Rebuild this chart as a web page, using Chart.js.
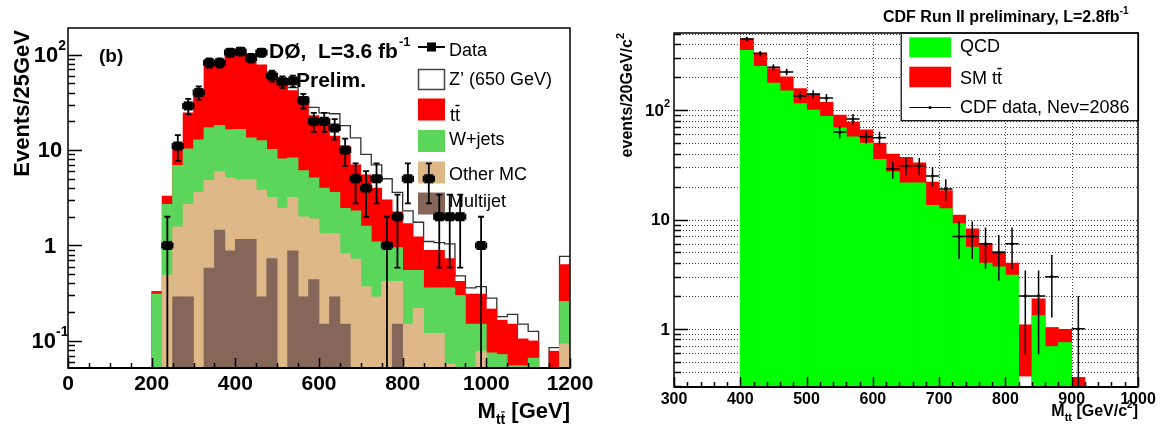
<!DOCTYPE html>
<html lang="en">
<head>
<meta charset="UTF-8">
<title>M_tt distributions</title>
<script src="https://cdn.jsdelivr.net/npm/chart.js@4.4.1/dist/chart.umd.min.js"></script>
<style>
  html, body { margin: 0; padding: 0; background: #fff; }
  #wrap { position: relative; width: 1160px; height: 433px; }
  canvas { position: absolute; top: 0; }
  #left { left: 0; }
  #right { left: 590px; }
</style>
</head>
<body>
<div id="wrap">
  <canvas id="left" width="620" height="433"></canvas>
  <canvas id="right" width="570" height="433"></canvas>
</div>
<script>
// ---------- left panel: D0, 25 GeV bins ----------
const d0BinLow = [200,225,250,275,300,325,350,375,400,425,450,475,500,525,550,575,600,625,650,675,
                  700,725,750,775,800,825,850,875,900,925,950,975,1000,1025,1050,1075,1100,1125,1150,1175];
// cumulative stack tops
const d0Multijet = [null,null,0.29,0.29,null,0.58,1.45,0.88,1.16,1.16,0.29,0.73,null,0.88,0.29,0.44,0.15,0.29,0.15,null,
                    null,null,null,0.15,null,null,null,null,null,null,null,null,null,null,null,null,null,null,null,null];
const d0OtherMC = [null,0.49,1.57,2.7,3.6,4.8,5.96,5.1,4.9,4.9,3.8,3.2,2.47,3.2,2.0,1.9,1.33,1.33,0.82,0.72,
                   0.37,0.29,0.42,0.42,0.15,0.22,0.12,0.12,0.057,null,null,0.078,null,null,null,null,null,null,null,0.093];
const d0Wjets = [0.31,2.7,6.9,10.3,12.8,17.2,18.2,16.4,16.5,13.4,12.6,10.2,8.1,8.3,6.1,5.1,4.0,3.6,2.45,2.3,
                 1.6,1.09,1.0,0.95,0.55,0.55,0.36,0.36,0.36,0.3,0.15,0.15,0.075,0.072,0.055,0.055,0.066,null,null,0.26];
const d0TTbar = [0.33,3.3,10.7,24.5,40,80,80,102,102,102,78,63,50,42,32,23,21,14,11,7,
                 5.5,4.0,3.0,2.25,1.7,1.23,0.89,0.89,0.73,0.42,0.31,0.31,0.216,0.165,0.15,0.105,0.10,null,0.078,0.63];
const d0Zprime = [null,null,null,null,null,null,null,null,null,null,null,null,50,45,36,28,24.5,24,18,13.4,
                  9,7,5,3.6,2.3,1.75,1.1,1.07,1.04,0.48,0.36,0.37,0.28,0.18,0.19,0.15,0.126,null,0.085,0.77];
const d0Data = [null,1,11,29,40,82,82,105,108,92,105,60,52,53,33,20,20,17,10,5,
                4,5,1,2,5,null,5,2,2,2,null,1,null,null,null,null,null,null,null,null];
const d0XTicks = [0,200,400,600,800,1000,1200];
const d0YTicks = [0.1,1,10,100];
const d0YTickText = [['10','-1'],['1',''],['10',''],['10','2']];

// ---------- right panel: CDF, 20 GeV bins ----------
const cdfBinLow = [400,420,440,460,480,500,520,540,560,580,600,620,640,660,680,700,720,740,760,780,800,820,840,860,880,900];
const cdfQCD = [353,252,177,150,115,100,88,69,57,50,35.5,27.3,21.7,21.7,13.5,12.6,9.2,5.6,4.0,3.7,3.1,null,1.32,0.69,0.75,null];
const cdfTotal = [452,334,240,202,158,142,118,90,78,66,50,39.6,37,33,22,18.4,11.0,8.2,6.0,5.1,4.0,1.09,1.88,1.03,0.99,0.36];
const cdfTTLow = [null,null,null,null,null,null,null,null,null,null,null,null,null,null,null,null,null,null,null,null,null,0.37,null,null,null,null];
const cdfData = [448,330,247,224,135,140,129,63,83,57,56,29,31,31,25,19,7,7,6,5,6,2,2,3,null,1];
const cdfXTicks = [300,400,500,600,700,800,900,1000];
const cdfYTicks = [1,10,100];
const cdfYTickText = [['1',''],['10',''],['10','2']];

const FONT = '"Liberation Sans", Arial, sans-serif';
const fnt = (s, b) => (b ? 'bold ' : '') + s + 'px ' + FONT;

const D0_YMIN = 0.052, D0_YMAX = 190;
const CDF_YMIN = 0.294, CDF_YMAX = 508;

function centers(lows, w, vals) { return lows.map((lo, i) => ({ x: lo + w / 2, y: vals[i] })); }

function logMinor(min, max) {
  const out = [];
  for (let d = Math.floor(Math.log10(min)); d <= Math.ceil(Math.log10(max)); d++)
    for (let k = 1; k <= 9; k++) {
      const v = k * Math.pow(10, d);
      if (v >= min && v <= max) out.push({ v, major: k === 1 });
    }
  return out;
}

function txt(ctx, s, x, y, font, align, base) {
  ctx.font = font; ctx.textAlign = align || 'left'; ctx.textBaseline = base || 'middle';
  ctx.fillText(s, x, y);
}

// "10" with a superscript, positioned by its centre or right edge
function powLabel(ctx, base, exp, x, y, size, align) {
  const fb = fnt(size, true), fe = fnt(Math.round(size * 0.62), true);
  ctx.font = fb; const wb = ctx.measureText(base).width;
  ctx.font = fe; const we = exp ? ctx.measureText(exp).width : 0;
  const x0 = align === 'center' ? x - (wb + we) / 2 : x - wb - we;
  txt(ctx, base, x0, y, fb, 'left');
  if (exp) txt(ctx, exp, x0 + wb, y - size * 0.45, fe, 'left');
}

// "tt" with a bar over the second t
function ttbar(ctx, x, y, size, bold, bar) {
  const f = fnt(size, bold);
  ctx.font = f;
  const w1 = ctx.measureText('t').width, w2 = ctx.measureText('tt').width;
  txt(ctx, 'tt', x, y, f, 'left', 'alphabetic');
  if (bar) {
    ctx.save(); ctx.lineWidth = Math.max(1, size / 12); ctx.strokeStyle = '#000';
    ctx.beginPath(); ctx.moveTo(x + w1 + 0.5, y - size * 0.86); ctx.lineTo(x + w2 - 0.5, y - size * 0.86); ctx.stroke();
    ctx.restore();
  }
  return w2;
}

// ================= LEFT CHART =================
const colTT = '#ff0000', colW = '#5ad65a', colOther = '#deb887', colMJ = '#866658';

const zPts = [];
d0BinLow.forEach((lo, i) => {
  if (i < 12) return;
  const v = d0Zprime[i] == null ? D0_YMIN : d0Zprime[i];
  zPts.push({ x: lo, y: v }, { x: lo + 25, y: v });
});

const d0Plugin = {
  id: 'd0deco',
  beforeDatasetsDraw(chart) {
    const ctx = chart.ctx;
    ctx.save();
    // legend
    ctx.fillStyle = '#000'; ctx.strokeStyle = '#000'; ctx.lineWidth = 2;
    ctx.beginPath(); ctx.moveTo(418, 47); ctx.lineTo(445, 47); ctx.stroke();
    ctx.fillRect(427, 42.5, 9, 9);
    txt(ctx, 'Data', 449, 51, fnt(18, false));
    ctx.fillStyle = '#fff'; ctx.fillRect(418.5, 69.5, 26, 20);
    ctx.strokeStyle = '#444'; ctx.lineWidth = 1.5; ctx.strokeRect(418.5, 69.5, 26, 20);
    ctx.fillStyle = '#000'; txt(ctx, 'Z\u2019 (650 GeV)', 449, 80, fnt(18, false));
    const boxes = [[colTT, 98.5], [colW, 130], [colOther, 161.5], [colMJ, 192.5]];
    boxes.forEach(([c, y]) => { ctx.fillStyle = c; ctx.fillRect(418, y, 27, 22); });
    ctx.fillStyle = '#000';
    ttbar(ctx, 450, 121, 18, false, true);
    txt(ctx, 'W+jets', 449, 140, fnt(18, false));
    txt(ctx, 'Other MC', 449, 175, fnt(18, false));
    txt(ctx, 'Multijet', 449, 202, fnt(18, false));
    ctx.restore();
  },
  afterDatasetsDraw(chart) {
    const { ctx, chartArea: a, scales: { x, y } } = chart;
    ctx.save();
    ctx.beginPath(); ctx.rect(a.left, a.top, a.right - a.left, a.bottom - a.top); ctx.clip();
    ctx.strokeStyle = '#000'; ctx.lineWidth = 1.8;
    d0Data.forEach((n, i) => {
      if (n == null) return;
      const cx = x.getPixelForValue(d0BinLow[i] + 12.5), cy = y.getPixelForValue(n);
      const e = Math.sqrt(n);
      const yHi = y.getPixelForValue(n + e);
      const yLo = n - e > 0 ? y.getPixelForValue(n - e) : a.bottom + 5;
      const xl = x.getPixelForValue(d0BinLow[i]), xr = x.getPixelForValue(d0BinLow[i] + 25);
      ctx.beginPath();
      ctx.moveTo(cx, yHi); ctx.lineTo(cx, yLo);
      ctx.moveTo(cx - 3, yHi); ctx.lineTo(cx + 3, yHi);
      if (n - e > 0) { ctx.moveTo(cx - 3, yLo); ctx.lineTo(cx + 3, yLo); }
      ctx.moveTo(xl, cy); ctx.lineTo(xr, cy);
      ctx.moveTo(xl, cy - 3); ctx.lineTo(xl, cy + 3);
      ctx.moveTo(xr, cy - 3); ctx.lineTo(xr, cy + 3);
      ctx.stroke();
    });
    ctx.restore();

    ctx.save();
    ctx.strokeStyle = '#000'; ctx.fillStyle = '#000';
    // ticks
    ctx.lineWidth = 1.5;
    ctx.beginPath();
    logMinor(D0_YMIN, D0_YMAX).forEach(t => {
      const py = Math.round(y.getPixelForValue(t.v)) + 0.5;
      ctx.moveTo(a.left, py); ctx.lineTo(a.left + (t.major ? 14 : 7), py);
    });
    for (let v = 0; v <= 1200; v += 50) {
      const px = Math.round(x.getPixelForValue(v)) + 0.5;
      ctx.moveTo(px, a.bottom); ctx.lineTo(px, a.bottom - (v % 200 === 0 ? 10 : 5));
    }
    ctx.stroke();
    // frame
    ctx.lineWidth = 1.5; ctx.strokeRect(a.left, a.top, a.right - a.left, a.bottom - a.top);
    ctx.lineWidth = 2; ctx.beginPath(); ctx.moveTo(a.left, a.bottom); ctx.lineTo(a.right, a.bottom); ctx.stroke();
    // tick labels
    d0XTicks.forEach(v => txt(ctx, String(v), x.getPixelForValue(v), 384, fnt(21, true), 'center'));
    d0YTicks.forEach((v, i) => powLabel(ctx, d0YTickText[i][0], d0YTickText[i][1], 50, y.getPixelForValue(v) + 1, 22, 'center'));
    // axis titles
    ctx.save(); ctx.translate(23, 30); ctx.rotate(-Math.PI / 2);
    txt(ctx, 'Events/25GeV', 0, 0, fnt(22, true), 'right');
    ctx.restore();
    ctx.font = fnt(22, true); const wM = ctx.measureText('M').width;
    ctx.font = fnt(14, true); const wS = ctx.measureText('tt').width;
    ctx.font = fnt(22, true); const wR = ctx.measureText(' [GeV]').width;
    let x0 = a.right - wM - wS - wR;
    txt(ctx, 'M', x0, 418, fnt(22, true), 'left', 'alphabetic');
    ttbar(ctx, x0 + wM, 424, 14, true, true);
    txt(ctx, ' [GeV]', x0 + wM + wS, 418, fnt(22, true), 'left', 'alphabetic');
    // annotations
    txt(ctx, '(b)', 99, 57, fnt(19, true));
    ctx.font = fnt(21, true); const wD = ctx.measureText('D\u00d8,  L=3.6 fb').width;
    txt(ctx, 'D\u00d8,  L=3.6 fb', 269, 52, fnt(21, true));
    txt(ctx, '-1', 269 + wD + 1, 42, fnt(13, true));
    txt(ctx, 'Prelim.', 296, 81, fnt(21, true));
    ctx.restore();
  }
};

new Chart(document.getElementById('left'), {
  type: 'bar',
  data: {
    datasets: [
      { type: 'line', label: 'Data', data: centers(d0BinLow, 25, d0Data), showLine: false, order: 0,
        pointStyle: 'rect', pointRadius: 6.4, pointBackgroundColor: '#000', pointBorderWidth: 0 },
      { label: 'Multijet', data: centers(d0BinLow, 25, d0Multijet), backgroundColor: colMJ, order: 1 },
      { label: 'Other MC', data: centers(d0BinLow, 25, d0OtherMC), backgroundColor: colOther, order: 2 },
      { label: 'W+jets', data: centers(d0BinLow, 25, d0Wjets), backgroundColor: colW, order: 3 },
      { label: 'ttbar', data: centers(d0BinLow, 25, d0TTbar), backgroundColor: colTT, order: 4 },
      { type: 'line', label: "Z' (650 GeV)", data: zPts, borderColor: '#333', borderWidth: 1.3,
        pointRadius: 0, fill: false, tension: 0, order: 5 }
    ]
  },
  options: {
    responsive: false, animation: false, events: [],
    layout: { padding: { left: 68, top: 28, right: 50, bottom: 65 } },
    datasets: { bar: { grouped: false, barPercentage: 1, categoryPercentage: 1, borderWidth: 0 } },
    plugins: { legend: { display: false }, tooltip: { enabled: false } },
    scales: {
      x: { type: 'linear', display: false, min: 0, max: 1200, offset: false, bounds: 'data' },
      y: { type: 'logarithmic', display: false, min: D0_YMIN, max: D0_YMAX, bounds: 'data' }
    }
  },
  plugins: [d0Plugin]
});

// ================= RIGHT CHART =================
const cdfGreen = '#00ff00', cdfRed = '#ff0000';

const cdfPlugin = {
  id: 'cdfdeco',
  beforeDatasetsDraw(chart) {
    const { ctx, chartArea: a, scales: { x, y } } = chart;
    ctx.save();
    ctx.strokeStyle = 'rgba(0,0,0,0.75)'; ctx.lineWidth = 1; ctx.setLineDash([1, 2]);
    ctx.beginPath();
    logMinor(CDF_YMIN, CDF_YMAX).forEach(t => {
      const py = Math.round(y.getPixelForValue(t.v)) + 0.5;
      if (py <= a.top + 1 || py >= a.bottom - 1) return;
      ctx.moveTo(a.left, py); ctx.lineTo(a.right, py);
    });
    for (let v = 400; v <= 900; v += 100) {
      const px = Math.round(x.getPixelForValue(v)) + 0.5;
      ctx.moveTo(px, a.top); ctx.lineTo(px, a.bottom);
    }
    ctx.stroke();
    ctx.restore();
  },
  afterDatasetsDraw(chart) {
    const { ctx, chartArea: a, scales: { x, y } } = chart;
    ctx.save();
    ctx.beginPath(); ctx.rect(a.left, a.top, a.right - a.left, a.bottom - a.top); ctx.clip();
    ctx.strokeStyle = '#000'; ctx.lineWidth = 1.5;
    cdfData.forEach((n, i) => {
      if (n == null) return;
      const e = Math.sqrt(n);
      const cx = x.getPixelForValue(cdfBinLow[i] + 10), cy = y.getPixelForValue(n);
      const yHi = y.getPixelForValue(n + e);
      const yLo = n - e > 0 ? y.getPixelForValue(n - e) : a.bottom + 5;
      ctx.beginPath();
      ctx.moveTo(cx, yHi); ctx.lineTo(cx, yLo);
      ctx.moveTo(x.getPixelForValue(cdfBinLow[i]), cy); ctx.lineTo(x.getPixelForValue(cdfBinLow[i] + 20), cy);
      ctx.stroke();
    });
    ctx.restore();

    ctx.save();
    ctx.fillStyle = '#000'; ctx.strokeStyle = '#000';
    // legend box
    const L = 900.7 - 590, T = a.top, R = a.right, B = 120.7;
    ctx.fillStyle = '#fff'; ctx.fillRect(L, T, R - L, B - T);
    ctx.lineWidth = 1.2; ctx.strokeRect(L + 0.5, T, R - L, B - T);
    ctx.fillStyle = cdfGreen; ctx.fillRect(909.3 - 590, 37.3, 41.7, 20);
    ctx.fillStyle = cdfRed; ctx.fillRect(909.3 - 590, 66.7, 41.7, 20.6);
    ctx.fillStyle = '#000';
    ctx.lineWidth = 1.2; ctx.beginPath(); ctx.moveTo(909.3 - 590, 107.5); ctx.lineTo(951 - 590, 107.5); ctx.stroke();
    ctx.beginPath(); ctx.arc(930 - 590, 107.5, 1.6, 0, Math.PI * 2); ctx.fill();
    txt(ctx, 'QCD', 960 - 590, 47.5, fnt(18, false));
    ctx.font = fnt(18, false); const wSM = ctx.measureText('SM ').width;
    txt(ctx, 'SM ', 960 - 590, 84, fnt(18, false), 'left', 'alphabetic');
    ttbar(ctx, 960 - 590 + wSM, 84, 18, false, true);
    txt(ctx, 'CDF data, Nev=2086', 960 - 590, 108, fnt(18, false));
    // ticks
    ctx.lineWidth = 1.5;
    ctx.beginPath();
    logMinor(CDF_YMIN, CDF_YMAX).forEach(t => {
      const py = Math.round(y.getPixelForValue(t.v)) + 0.5;
      ctx.moveTo(a.left, py); ctx.lineTo(a.left + (t.major ? 14 : 7), py);
    });
    for (let v = 300; v <= 1000; v += 20) {
      const px = Math.round(x.getPixelForValue(v)) + 0.5;
      ctx.moveTo(px, a.bottom); ctx.lineTo(px, a.bottom - (v % 100 === 0 ? 10 : 5));
    }
    ctx.stroke();
    // frame
    ctx.lineWidth = 1.5; ctx.strokeRect(a.left, a.top, a.right - a.left, a.bottom - a.top);
    ctx.lineWidth = 2; ctx.beginPath(); ctx.moveTo(a.left, a.bottom); ctx.lineTo(a.right, a.bottom); ctx.stroke();
    // tick labels
    cdfXTicks.forEach(v => txt(ctx, String(v), x.getPixelForValue(v), 400, fnt(16, true), 'center'));
    cdfYTicks.forEach((v, i) => powLabel(ctx, cdfYTickText[i][0], cdfYTickText[i][1], 80, y.getPixelForValue(v) + 1, 17, 'right'));
    // title
    ctx.font = fnt(16, true); const wT = ctx.measureText('CDF Run II preliminary, L=2.8fb').width;
    txt(ctx, 'CDF Run II preliminary, L=2.8fb', 883 - 590, 18, fnt(16, true));
    txt(ctx, '-1', 883 - 590 + wT, 11, fnt(10, true));
    // y title (reads upward, ends at frame top)
    ctx.save(); ctx.translate(38, a.top); ctx.rotate(-Math.PI / 2);
    ctx.font = fnt(11, true); const w2 = ctx.measureText('2').width;
    txt(ctx, 'events/20GeV/c', -w2, 0, fnt(16, true), 'right');
    txt(ctx, '2', -w2, -7, fnt(11, true), 'left');
    ctx.restore();
    // x title
    ctx.font = fnt(16, true); const wM = ctx.measureText('M').width;
    ctx.font = fnt(11, true); const wS = ctx.measureText('tt').width;
    ctx.font = fnt(16, true); const wG = ctx.measureText(' [GeV/c').width, wB = ctx.measureText(']').width;
    ctx.font = fnt(10, true); const wSup = ctx.measureText('2').width;
    let x0 = a.right - (wM + wS + wG + wSup + wB);
    txt(ctx, 'M', x0, 416, fnt(16, true), 'left', 'alphabetic');
    txt(ctx, 'tt', x0 + wM, 421, fnt(11, true), 'left', 'alphabetic');
    txt(ctx, ' [GeV/c', x0 + wM + wS, 416, fnt(16, true), 'left', 'alphabetic');
    txt(ctx, '2', x0 + wM + wS + wG, 408, fnt(10, true), 'left', 'alphabetic');
    txt(ctx, ']', x0 + wM + wS + wG + wSup, 416, fnt(16, true), 'left', 'alphabetic');
    ctx.restore();
  }
};

new Chart(document.getElementById('right'), {
  type: 'bar',
  data: {
    datasets: [
      { type: 'line', label: 'CDF data, Nev=2086', data: centers(cdfBinLow, 20, cdfData), showLine: false, order: 0,
        pointRadius: 1.6, pointBackgroundColor: '#000', pointBorderWidth: 0 },
      { label: 'QCD', data: centers(cdfBinLow, 20, cdfQCD), backgroundColor: cdfGreen, order: 1 },
      { label: 'SM ttbar', order: 2, backgroundColor: cdfRed,
        data: cdfBinLow.map((lo, i) => ({ x: lo + 10, y: cdfTTLow[i] != null ? [cdfTTLow[i], cdfTotal[i]] : cdfTotal[i] })) }
    ]
  },
  options: {
    responsive: false, animation: false, events: [],
    layout: { padding: { left: 84, top: 33, right: 22, bottom: 46 } },
    datasets: { bar: { grouped: false, barPercentage: 1, categoryPercentage: 1, borderWidth: 0 } },
    plugins: { legend: { display: false }, tooltip: { enabled: false } },
    scales: {
      x: { type: 'linear', display: false, min: 300, max: 1000, offset: false, bounds: 'data' },
      y: { type: 'logarithmic', display: false, min: CDF_YMIN, max: CDF_YMAX, bounds: 'data' }
    }
  },
  plugins: [cdfPlugin]
});
</script>
</body>
</html>
